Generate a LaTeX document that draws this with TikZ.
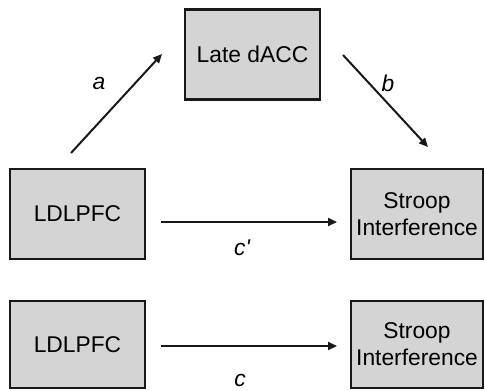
\documentclass[tikz,border=0pt]{standalone}
\usepackage{fontspec}
\setmainfont{Liberation Sans}
\usetikzlibrary{arrows.meta}
\definecolor{boxgray}{RGB}{212,212,212}
\definecolor{edge}{RGB}{25,25,25}
\begin{document}
\begin{tikzpicture}[x=1pt,y=-1pt,
  varbox/.style={draw=edge,fill=boxgray,line width=2.5pt,inner sep=0pt,
    minimum width=135pt,minimum height=90pt,font=\fontsize{22.8}{27}\selectfont,align=center},
  path/.style={line width=2pt,edge,-{Triangle[length=9pt,width=8pt]}},
  lbl/.style={font=\fontsize{22.8}{27}\selectfont\itshape}]
\useasboundingbox (0,0) rectangle (485,391);
\node[varbox] (dacc) at (252.5,54.5) {Late dACC};
\node[varbox] (l1) at (77.5,214) {LDLPFC};
\node[varbox,minimum width=132pt] (s1) at (417,214) {Stroop\\Interference};
\node[varbox,minimum height=87pt] (l2) at (77.5,344.5) {LDLPFC};
\node[varbox,minimum width=132pt,minimum height=87pt] (s2) at (417,344.5) {Stroop\\Interference};
\coordinate (a0) at (71,153);
\coordinate (a1) at (162,54);
\coordinate (b0) at (343,55);
\coordinate (b1) at (428,147);
\coordinate (c0) at (161,222);
\coordinate (c1) at (337,222);
\coordinate (d0) at (161,346);
\coordinate (d1) at (337,346);
\draw[path] (a0) -- (a1);
\draw[path] (b0) -- (b1);
\draw[path] (c0) -- (c1);
\draw[path] (d0) -- (d1);
\node[lbl] (la) at (99,83) {a};
\node[lbl] (lb) at (388,83) {b};
\node[lbl] (lc1) at (242,248) {c\textquotesingle};
\node[lbl] (lc) at (240,380) {c};
\end{tikzpicture}
\end{document}
